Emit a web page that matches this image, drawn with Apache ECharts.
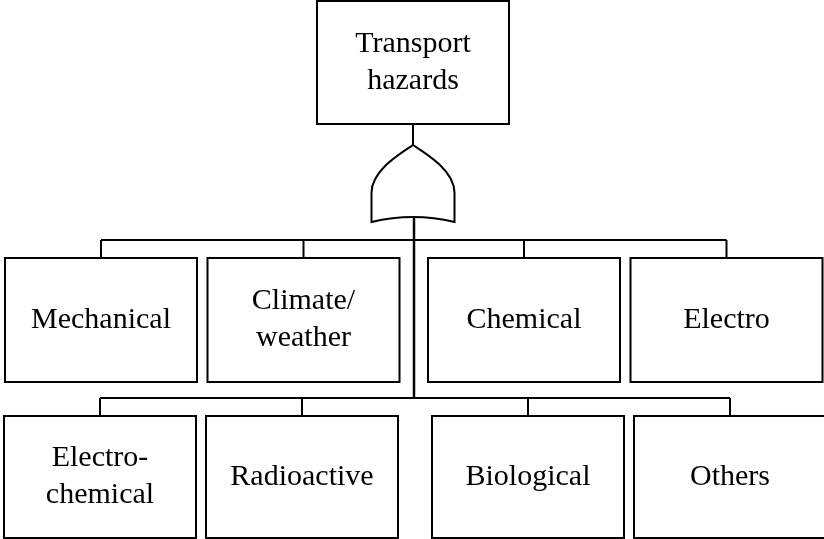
<!DOCTYPE html>
<html>
<head>
<meta charset="utf-8">
<title>Transport hazards</title>
<script src="https://cdn.jsdelivr.net/npm/echarts@6/dist/echarts.min.js"></script>
<style>
html,body{margin:0;padding:0;background:#fff;}
#faultTree{width:824px;height:539px;}
</style>
</head>
<body>
<div id="faultTree"></div>
<script>
// node texts
var rootLabel = ['Transport\nhazards'];
var row1Labels = ['Mechanical', 'Climate/\nweather', 'Chemical', 'Electro'];
var row2Labels = ['Electro-\nchemical', 'Radioactive', 'Biological', 'Others'];
// box centres along x (axis units) and top of each row
var rootX = [413];
var row1X = [101, 303.5, 524, 726.5];
var row2X = [100, 302, 528, 730];
var rowTop = [1, 258, 416];

var faultTree = {
	boxW: 192,
	boxH: [123, 124, 122],
	font: 'Liberation Serif',
	init: function () {
		var self = this;
		var myChart = echarts.init(document.getElementById('faultTree'));

		var boxes = [];
		var addRow = function (xs, labels, row) {
			for (var i = 0; i < xs.length; i++) {
				boxes.push({ value: [xs[i], rowTop[row], row], name: labels[i] });
			}
		};
		addRow(rootX, rootLabel, 0);
		addRow(row1X, row1Labels, 1);
		addRow(row2X, row2Labels, 2);

		var gateTop = rowTop[0] + self.boxH[0] + 21;
		var gateBottom = gateTop + 77;
		var bus1 = rowTop[1] - 18, bus2 = rowTop[2] - 18;
		var trunkX = rootX[0] + 1;

		var links = [];
		links.push({ coords: [[rootX[0], rowTop[0] + self.boxH[0]], [rootX[0], gateTop]] });
		links.push({ coords: [[trunkX, gateBottom - 5], [trunkX, bus2]], lineStyle: { width: 2.5 } });
		links.push({ coords: [[row1X[0], bus1], [row1X[row1X.length - 1], bus1]] });
		links.push({ coords: [[row2X[0], bus2], [row2X[row2X.length - 1], bus2]] });
		$each(row1X, function (x) { links.push({ coords: [[x, bus1], [x, rowTop[1]]] }); });
		$each(row2X, function (x) { links.push({ coords: [[x, bus2], [x, rowTop[2]]] }); });

		var option = {
			animation: false,
			grid: { left: 0, right: 0, top: 0, bottom: 0 },
			xAxis: { type: 'value', min: 0, max: 824, show: false },
			yAxis: { type: 'value', min: 0, max: 539, inverse: true, show: false },
			series: [
				{
					type: 'lines',
					coordinateSystem: 'cartesian2d',
					polyline: true,
					silent: true,
					lineStyle: { color: '#000', width: 2, opacity: 1 },
					data: links
				},
				{
					// OR gate
					type: 'custom',
					coordinateSystem: 'cartesian2d',
					silent: true,
					data: [[rootX[0], gateTop]],
					renderItem: function (params, api) {
						var p = api.coord([api.value(0), api.value(1)]);
						var s = api.size([83, 77]);
						var l = p[0] - s[0] / 2, r = p[0] + s[0] / 2;
						var t = p[1], b = p[1] + s[1];
						var shoulder = t + s[1] * 0.62;
						var path = 'M' + l + ',' + b +
							' L' + l + ',' + shoulder +
							' C' + l + ',' + (t + 26) + ' ' + (p[0] - 14) + ',' + (t + 9) + ' ' + p[0] + ',' + t +
							' C' + (p[0] + 14) + ',' + (t + 9) + ' ' + r + ',' + (t + 26) + ' ' + r + ',' + shoulder +
							' L' + r + ',' + b +
							' Q' + p[0] + ',' + (b - 10) + ' ' + l + ',' + b + ' Z';
						return {
							type: 'path',
							shape: { pathData: path },
							style: { fill: '#fff', stroke: '#000', lineWidth: 2 }
						};
					}
				},
				{
					type: 'custom',
					coordinateSystem: 'cartesian2d',
					silent: true,
					data: boxes,
					renderItem: function (params, api) {
						var row = api.value(2);
						var tl = api.coord([api.value(0) - self.boxW / 2, api.value(1)]);
						var s = api.size([self.boxW, self.boxH[row]]);
						return {
							type: 'group',
							children: [
								{
									type: 'rect',
									shape: { x: tl[0], y: tl[1], width: s[0], height: s[1] },
									style: { fill: '#fff', stroke: '#000', lineWidth: 2 }
								},
								{
									type: 'text',
									style: {
										x: tl[0] + s[0] / 2,
										y: tl[1] + s[1] / 2,
										text: boxes[params.dataIndex].name,
										align: 'center',
										verticalAlign: 'middle',
										fontFamily: self.font,
										fontSize: 30,
										lineHeight: 37,
										fill: '#000'
									}
								}
							]
						};
					}
				}
			]
		};
		myChart.setOption(option, true);
	}
};

function $each(arr, fn) {
	for (var i = 0; i < arr.length; i++) fn(arr[i], i);
}

faultTree.init();
</script>
</body>
</html>
